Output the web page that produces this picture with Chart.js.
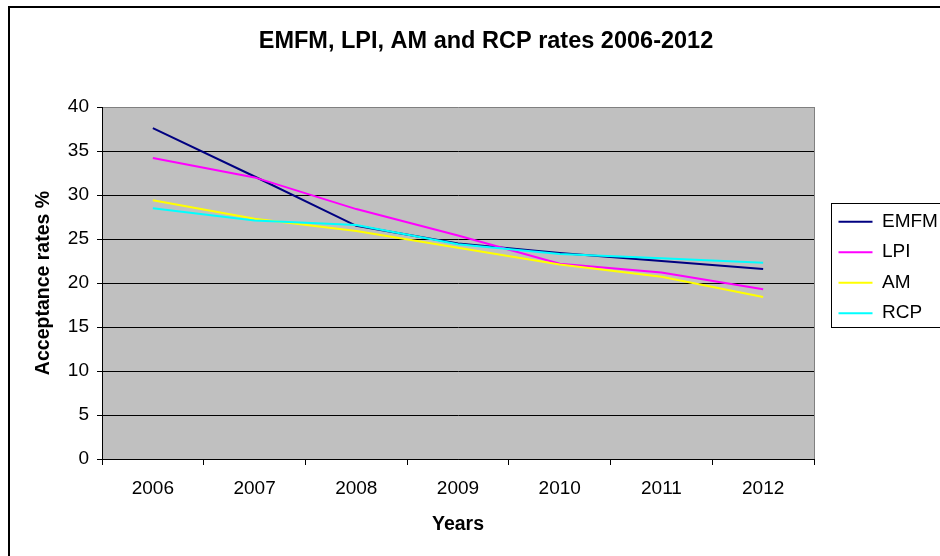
<!DOCTYPE html>
<html>
<head>
<meta charset="utf-8">
<script src="https://cdn.jsdelivr.net/npm/chart.js@4.4.1/dist/chart.umd.min.js"></script>
<style>
  html, body { margin: 0; padding: 0; background: #fff; }
  #wrap { width: 940px; height: 556px; position: relative; }
</style>
</head>
<body>
<div id="wrap"><canvas id="c" width="940" height="556"></canvas></div>
<script>
// Acceptance rates (%) per year
const years = ['2006', '2007', '2008', '2009', '2010', '2011', '2012'];
const emfm  = [37.6, 32.1, 26.5, 24.5, 23.4, 22.5, 21.6];
const lpi   = [34.2, 32.0, 28.4, 25.4, 22.2, 21.2, 19.3];
const am    = [29.4, 27.3, 25.9, 24.0, 22.1, 20.7, 18.4];
const rcp   = [28.5, 27.1, 26.6, 24.4, 23.3, 22.8, 22.3];
const seriesNames = ['EMFM', 'LPI', 'AM', 'RCP'];
const yMin = 0, yMax = 40, yStep = 5;

const FONT = '"Liberation Sans", Arial, Helvetica, sans-serif';
const colors = ['#000080', '#FF00FF', '#FFFF00', '#00FFFF'];
const values = [emfm, lpi, am, rcp];

// Plot background, frame, legend box and title placement
const decor = {
  id: 'decor',
  afterLayout(chart) {
    const t = chart.titleBlock;
    if (t) { t.left = 0; t.right = 972; t.width = 972; }
    const lg = chart.legend;
    if (lg) {
      lg.left = 827; lg.right = 1000; lg.width = 173;
      lg.top = 200.7; lg.bottom = 430; lg.height = 229.3;
    }
  },
  beforeDraw(chart) {
    const { ctx, chartArea: a } = chart;
    ctx.save();
    ctx.fillStyle = '#fff';
    ctx.fillRect(0, 0, chart.width, chart.height);
    ctx.fillStyle = '#C0C0C0';
    ctx.fillRect(a.left, a.top, a.right - a.left, a.bottom - a.top);
    ctx.restore();
  },
  beforeDatasetsDraw(chart) {
    const { ctx, chartArea: a } = chart;
    ctx.save();
    ctx.strokeStyle = '#808080';
    ctx.lineWidth = 1;
    ctx.beginPath();
    ctx.moveTo(a.right + 0.5, a.top);
    ctx.lineTo(a.right + 0.5, a.bottom);
    ctx.stroke();
    ctx.restore();
  },
  afterDraw(chart) {
    const ctx = chart.ctx;
    ctx.save();
    ctx.strokeStyle = '#000';
    ctx.lineWidth = 2;
    ctx.strokeRect(9, 7, 1000, 1000);
    ctx.lineWidth = 1;
    ctx.strokeRect(831.5, 203.5, 200, 124);
    ctx.restore();
  }
};

new Chart(document.getElementById('c'), {
  type: 'line',
  data: {
    labels: years,
    datasets: seriesNames.map((name, i) => ({
      label: name,
      data: values[i],
      borderColor: colors[i],
      backgroundColor: colors[i],
      borderWidth: 2,
      pointRadius: 0,
      pointHoverRadius: 0,
      tension: 0,
      fill: false,
      order: seriesNames.length - i
    }))
  },
  options: {
    responsive: false,
    animation: false,
    devicePixelRatio: 1,
    layout: { padding: { left: 0, top: 0, right: 126, bottom: 0 } },
    plugins: {
      tooltip: { enabled: false },
      title: {
        display: true,
        text: 'EMFM, LPI, AM and RCP rates 2006-2012',
        color: '#000',
        font: { family: FONT, size: 23.5, weight: 'bold' },
        padding: { top: 27.5, bottom: 51.3 }
      },
      legend: {
        display: true,
        position: 'chartArea',
        align: 'start',
        labels: {
          usePointStyle: true,
          pointStyle: 'line',
          pointStyleWidth: 34,
          color: '#000',
          font: { family: FONT, size: 19 },
          padding: 11.5,
          sort: (a, b) => a.datasetIndex - b.datasetIndex
        }
      }
    },
    scales: {
      x: {
        type: 'category',
        offset: true,
        grid: {
          display: true,
          offset: true,
          drawOnChartArea: false,
          drawTicks: true,
          tickLength: 6,
          color: '#000'
        },
        border: { display: true, color: '#000', width: 1 },
        ticks: {
          color: '#000',
          font: { family: FONT, size: 19 },
          padding: 12,
          maxRotation: 0,
          autoSkip: false
        },
        title: {
          display: true,
          text: 'Years',
          color: '#000',
          font: { family: FONT, size: 19.5, weight: 'bold' },
          padding: { top: 0, bottom: 20 }
        },
        afterFit(s) { s.height = 97; }
      },
      y: {
        min: yMin,
        max: yMax,
        ticks: {
          stepSize: yStep,
          color: '#000',
          font: { family: FONT, size: 19 },
          padding: 8
        },
        grid: {
          color: (c) => (c.tick && c.tick.value === yMax) ? '#808080' : '#000',
          tickColor: '#000',
          tickLength: 5,
          lineWidth: 1
        },
        border: { display: true, color: '#000', width: 1 },
        title: {
          display: true,
          text: 'Acceptance rates %',
          color: '#000',
          font: { family: FONT, size: 19.5, weight: 'bold' },
          padding: { top: 32, bottom: 0 }
        },
        afterFit(s) { s.width = 102; }
      }
    }
  },
  plugins: [decor]
});
</script>
</body>
</html>
